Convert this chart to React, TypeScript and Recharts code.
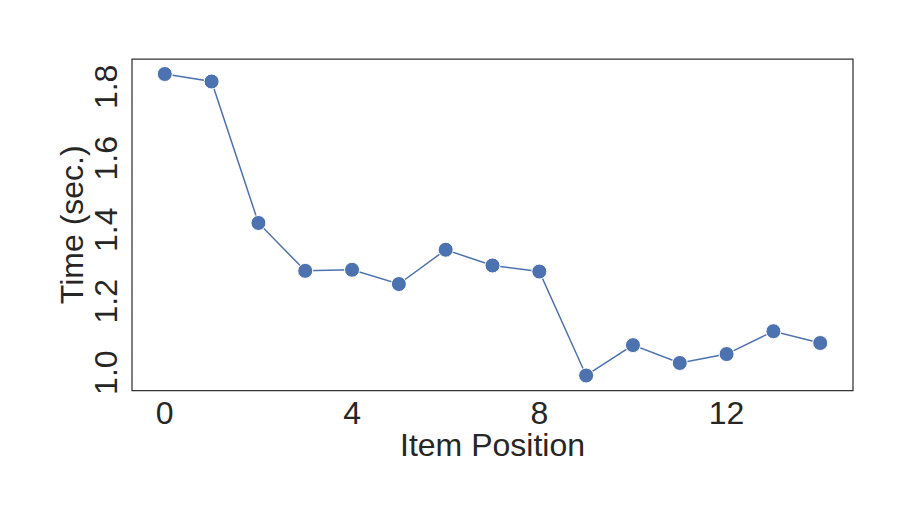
import { LineChart, Line, XAxis, YAxis, ReferenceArea, Label } from 'recharts';

// item position on x, response time on y
const positions = [0, 1, 2, 3, 4, 5, 6, 7, 8, 9, 10, 11, 12, 13, 14];
const times = [1.836, 1.815, 1.419, 1.285, 1.288, 1.248, 1.344, 1.300, 1.283, 0.992, 1.077, 1.027, 1.052, 1.116, 1.083];
const xTicks = [0, 4, 8, 12];
const yTicks = [1.0, 1.2, 1.4, 1.6, 1.8];

const X_DOMAIN: [number, number] = [-0.7, 14.7];
const Y_DOMAIN: [number, number] = [0.95, 1.878];

const FONT = '"Liberation Sans", Arial, sans-serif';
const TEXT = '#262626';
const BLUE = '#4c72b0';

const data = positions.map((p, i) => ({ pos: p, time: times[i] }));

const XTick = ({ x, y, payload }: any) => (
    <text x={x} y={y + 33} textAnchor="middle" fill={TEXT} fontSize={32} fontFamily={FONT}>
        {payload.value}
    </text>
);

const YTick = ({ x, y, payload }: any) => (
    <text
        x={x - 15}
        y={y}
        transform={`rotate(-90, ${x - 15}, ${y})`}
        textAnchor="middle"
        fill={TEXT}
        fontSize={32}
        fontFamily={FONT}
    >
        {Number(payload.value).toFixed(1)}
    </text>
);

const XLabel = ({ viewBox }: any) => (
    <text
        x={viewBox.x + viewBox.width / 2}
        y={viewBox.y + 65.5}
        textAnchor="middle"
        fill={TEXT}
        fontSize={32}
        fontFamily={FONT}
    >
        Item Position
    </text>
);

const YLabel = ({ viewBox }: any) => {
    const bx = viewBox.x + 31;
    const cy = viewBox.y + viewBox.height / 2;
    return (
        <text
            x={bx}
            y={cy}
            transform={`rotate(-90, ${bx}, ${cy})`}
            textAnchor="middle"
            fill={TEXT}
            fontSize={32}
            fontFamily={FONT}
        >
            Time (sec.)
        </text>
    );
};

export default function App() {
    return (
        <div style={{ position: 'absolute', left: 0, top: 0, width: 913, height: 522, background: '#fff' }}>
            <LineChart width={913} height={522} data={data} margin={{ top: 59, right: 60, left: 52, bottom: 51.5 }}>
                <XAxis
                    dataKey="pos"
                    type="number"
                    domain={X_DOMAIN}
                    ticks={xTicks}
                    allowDataOverflow
                    height={80}
                    axisLine={false}
                    tickLine={false}
                    tickSize={0}
                    tickMargin={0}
                    tick={<XTick />}
                    interval={0}
                >
                    <Label content={<XLabel />} />
                </XAxis>
                <YAxis
                    type="number"
                    domain={Y_DOMAIN}
                    ticks={yTicks}
                    allowDataOverflow
                    width={80}
                    axisLine={false}
                    tickLine={false}
                    tickSize={0}
                    tickMargin={0}
                    tick={<YTick />}
                    interval={0}
                >
                    <Label content={<YLabel />} />
                </YAxis>
                <ReferenceArea
                    x1={X_DOMAIN[0]}
                    x2={X_DOMAIN[1]}
                    y1={Y_DOMAIN[0]}
                    y2={Y_DOMAIN[1]}
                    fill="none"
                    fillOpacity={0}
                    stroke="#333333"
                    strokeWidth={1.25}
                    ifOverflow="visible"
                />
                <Line
                    type="linear"
                    dataKey="time"
                    stroke={BLUE}
                    strokeWidth={1.5}
                    dot={{ r: 7.5, fill: BLUE, stroke: '#ffffff', strokeWidth: 1 }}
                    activeDot={false}
                    isAnimationActive={false}
                />
            </LineChart>
        </div>
    );
}
